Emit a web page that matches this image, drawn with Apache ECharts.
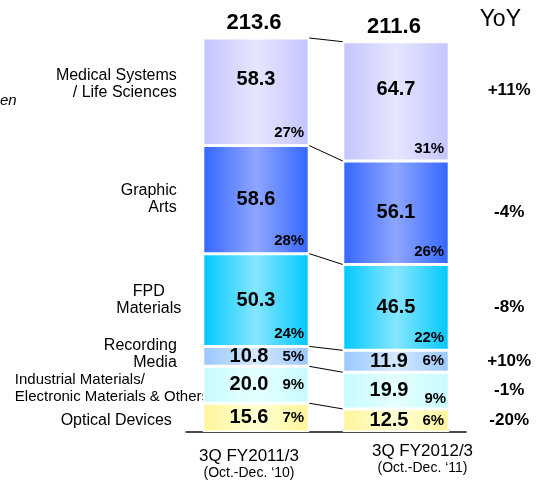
<!DOCTYPE html>
<html><head><meta charset="utf-8">
<script src="https://cdn.jsdelivr.net/npm/echarts@6/dist/echarts.min.js"></script>
<style>html,body{margin:0;padding:0;background:#fff}#c{width:537px;height:482px}</style>
</head><body><div id="c"></div>
<script>
// ---- data (bottom to top) ----
const segments = ['Optical Devices', 'Industrial Materials/\nElectronic Materials & Others', 'Recording\nMedia', 'FPD\nMaterials', 'Graphic\nArts', 'Medical Systems\n/ Life Sciences'];
const fy11 = [15.6, 20.0, 10.8, 50.3, 58.6, 58.3];
const fy12 = [12.5, 19.9, 11.9, 46.5, 56.1, 64.7];
const share11 = [7, 9, 5, 24, 28, 27];
const share12 = [6, 9, 6, 22, 26, 31];
const yoy = ['-20%', '-1%', '+10%', '-8%', '-4%', '+11%'];
const totals = [213.6, 211.6];
const periods = ['3Q FY2011/3', '3Q FY2012/3'];
const periodNotes = ['(Oct.-Dec. \u201810)', '(Oct.-Dec. \u201811)'];

// ---- style ----
const FONT = '"Liberation Sans", Arial, Helvetica, sans-serif';
const BAR_W = 0.76;
const edgeColors = ['#FFF59A', '#C6FBFF', '#99C7FF', '#00C8FF', '#3366FF', '#C4C4FF'];
const midColors  = ['#FFFFD4', '#E6FFFF', '#D4E8FF', '#85E6FF', '#8FA6FF', '#E6E6FF'];
function grad(i) {
  return new echarts.graphic.LinearGradient(0, 0, 1, 0, [
    {offset: 0, color: edgeColors[i]}, {offset: 0.5, color: midColors[i]}, {offset: 1, color: edgeColors[i]}
  ]);
}
const cum = arr => arr.reduce((acc, v, i) => { acc.push((i ? acc[i - 1] : 0) + v); return acc; }, []);
const cum11 = cum(fy11), cum12 = cum(fy12);
const TOP = segments.length - 1;
const shares = [share11, share12];

const series = [];
segments.forEach((name, i) => {
  const small = Math.max(fy11[i], fy12[i]) < 30;
  series.push({
    type: 'bar', name: name, stack: 'sales', xAxisIndex: 0, barWidth: '76%',
    data: [fy11[i], fy12[i]], silent: true,
    itemStyle: {color: grad(i), borderColor: '#fff', borderWidth: 1.5},
    label: {show: true, position: 'inside', offset: i === TOP ? [0, -12] : (small ? [-7, 0] : [0, 0]),
      formatter: p => p.value.toFixed(1), fontSize: 20, fontWeight: 'bold', color: '#000', fontFamily: FONT}
  });
  const pos = small ? 'insideRight' : 'insideBottomRight';
  series.push({
    type: 'bar', name: name + ' share', stack: 'share', xAxisIndex: 1, barWidth: '76%',
    data: [{value: fy11[i]}, {value: fy12[i], label: (i === 1 ? {position: 'insideBottomRight', distance: 3} : {})}],
    silent: true,
    itemStyle: {color: 'rgba(0,0,0,0)'},
    label: {show: true, position: pos, distance: 5,
      formatter: p => shares[p.dataIndex][i] + '%', fontSize: 15, fontWeight: 'bold', color: '#000', fontFamily: FONT}
  });
});

// totals on top
series.push({
  type: 'custom', silent: true,
  data: totals.map((t, k) => [k, t]),
  encode: {x: 0, y: 1},
  renderItem: (params, api) => {
    const p = api.coord([api.value(0), api.value(1)]);
    return {type: 'text', style: {
      text: api.value(1).toFixed(1), x: p[0] - 2, y: p[1] - 15, align: 'center', verticalAlign: 'middle',
      fontSize: 22, fontWeight: 'bold', fontFamily: FONT, fill: '#000'}};
  }
});

// connector lines between bars
series.push({
  type: 'custom', silent: true, z: 1,
  data: segments.map((s, i) => [0, cum11[i], 1, cum12[i]]),
  encode: {x: [0, 2], y: [1, 3]},
  renderItem: (params, api) => {
    const half = api.size([1, 0])[0] * BAR_W / 2;
    const p1 = api.coord([api.value(0), api.value(1)]);
    const p2 = api.coord([api.value(2), api.value(3)]);
    return {type: 'line', shape: {x1: p1[0] + half, y1: p1[1], x2: p2[0] - half, y2: p2[1]},
      style: {stroke: '#000', lineWidth: 1}};
  }
});

// segment names at left
const nameDy = {0: 3, 1: 4, 2: -2, 5: -8};
const nameDx = {0: -31, 1: -188, 3: -54};
const nameAlign = {1: 'left', 3: 'center'};
series.push({
  type: 'custom', silent: true,
  data: segments.map((s, i) => [0, cum11[i] - fy11[i] / 2]),
  encode: {x: 0, y: 1},
  renderItem: (params, api) => {
    const i = params.dataIndex;
    const half = api.size([1, 0])[0] * BAR_W / 2;
    const p = api.coord([api.value(0), api.value(1)]);
    return {type: 'text', style: {
      text: segments[i], x: p[0] - half + (nameDx[i] !== undefined ? nameDx[i] : -26), y: p[1] + (nameDy[i] || 0),
      align: nameAlign[i] || 'right', verticalAlign: 'middle',
      fontSize: i === 1 ? 15 : 16, lineHeight: 17, fontFamily: FONT, fill: '#000'}};
  }
});

// YoY column
series.push({
  type: 'custom', silent: true,
  data: segments.map((s, i) => [1, cum12[i] - fy12[i] / 2]),
  encode: {x: 0, y: 1},
  renderItem: (params, api) => {
    const i = params.dataIndex;
    const half = api.size([1, 0])[0] * BAR_W / 2;
    const p = api.coord([api.value(0), api.value(1)]);
    return {type: 'text', style: {
      text: yoy[i], x: p[0] + half + 60, y: p[1] + (i === TOP ? -11 : 0),
      align: 'center', verticalAlign: 'middle',
      fontSize: 17, fontWeight: 'bold', fontFamily: FONT, fill: '#000'}};
  }
});

const chart = echarts.init(document.getElementById('c'), null, {renderer: 'canvas'});
chart.setOption({
  animation: false,
  backgroundColor: '#fff',
  title: {text: 'YoY', right: 11, top: 3, textStyle: {fontSize: 23, fontWeight: 'normal', color: '#000', fontFamily: FONT}},
  graphic: [{type: 'text', left: 0, top: 93, style: {text: 'en', fontSize: 15, fontStyle: 'italic', fontFamily: FONT, fill: '#000'}}],
  grid: {left: 186, right: 71, top: 38, bottom: 50},
  xAxis: [{
    type: 'category', data: periods,
    axisLine: {lineStyle: {color: '#111', width: 1.5}}, axisTick: {show: false},
    axisLabel: {
      interval: 0, margin: 10,
      formatter: (v, idx) => (idx === 0 ? '{s| }\n' : '') + '{a' + idx + '|' + v + '}\n{b' + idx + '|' + periodNotes[idx] + '}',
      rich: {
        s: {fontSize: 1, lineHeight: 5},
        a0: {fontSize: 17, lineHeight: 18, fontFamily: FONT, color: '#000', padding: [0, 14, 0, 0]},
        a1: {fontSize: 17, lineHeight: 18, fontFamily: FONT, color: '#000', padding: [0, 0, 0, 53]},
        b0: {fontSize: 14, lineHeight: 16, fontFamily: FONT, color: '#000', padding: [0, 14, 0, 0]},
        b1: {fontSize: 14, lineHeight: 16, fontFamily: FONT, color: '#000', padding: [0, 0, 0, 53]}
      }
    }
  }, {type: 'category', data: periods, show: false}],
  yAxis: {type: 'value', min: 0, max: 213.6, show: false, splitLine: {show: false}},
  series: series
});
</script></body></html>
